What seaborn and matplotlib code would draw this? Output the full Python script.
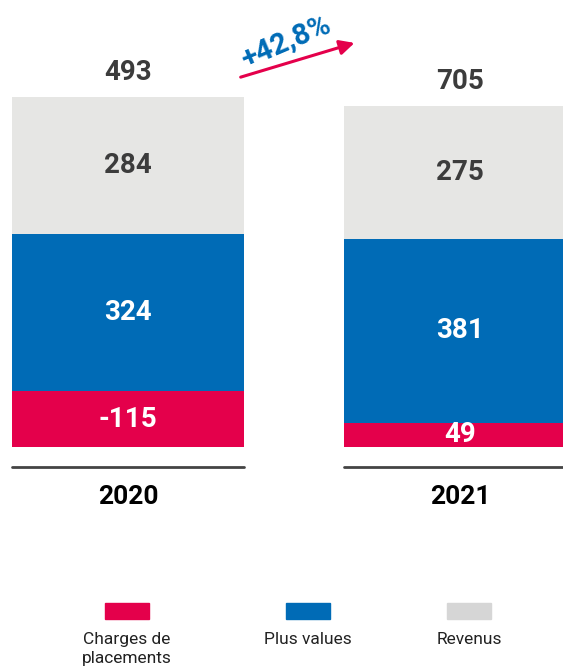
import numpy as np
import pandas as pd
import seaborn as sns
import matplotlib.pyplot as plt
from matplotlib.patches import Rectangle

sns.set_style("white")
plt.rcParams['font.family'] = ['Roboto', 'DejaVu Sans']

# data
years = ["2020", "2021"]
charges = [-115, 49]
plus_values = [324, 381]
revenus = [284, 275]
totals = [493, 705]
growth_label = "+42,8%"
series_names = ["Charges de\nplacements", "Plus values", "Revenus"]

red = "#E4004B"
blue = "#006BB6"
grey = "#E6E6E4"

fig = plt.figure(figsize=(5.63, 6.71), dpi=100)
ax = fig.add_axes([0, 0, 1, 1])

# bottom-up stack, heights drawn from absolute values
layers = [charges, plus_values, revenus]
colors = [red, blue, grey]
bottom = np.zeros(len(years))
for vals, c in zip(layers, colors):
    h = np.abs(vals)
    df = pd.DataFrame({"year": years, "h": h})
    sns.barplot(data=df, x="year", y="h", color=c, width=0.70, bottom=bottom,
                saturation=1, ax=ax, errorbar=None, linewidth=0,
                edgecolor="none")
    for i, v in enumerate(vals):
        ax.text(i, bottom[i] + h[i] / 2, f"{v}", ha="center", va="center",
                fontsize=20, fontweight="bold",
                color="#3C3C3C" if c == grey else "white")
    bottom = bottom + h

for i, t in enumerate(totals):
    ax.text(i, bottom[i] + 22, f"{t}", ha="center", va="bottom",
            fontsize=20, fontweight="bold", color="#3C3C3C")
    ax.plot([i - 0.35, i + 0.35], [-41, -41], color="#444444", lw=2)
    ax.text(i, -103, years[i], ha="center", va="center", fontsize=19,
            fontweight="bold", color="black")

# growth arrow
ax.annotate("", xy=(0.69, 836), xytext=(0.331, 762),
            arrowprops=dict(arrowstyle="-|>", color=red, lw=2.2,
                            mutation_scale=22))
ax.text(0.475, 838, growth_label, ha="center", va="center", rotation=23,
        fontsize=21, fontweight="bold", color=blue)

ax.set_xlim(-0.386, 1.31)
ax.set_ylim(-463, 923)
ax.axis("off")

# legend
leg_x = [127, 308, 469]
for name, c, x in zip(series_names, [red, blue, "#D6D6D6"], leg_x):
    fig.patches.append(Rectangle(((x - 22) / 563, 1 - 619 / 671), 44 / 563, 16 / 671,
                                 transform=fig.transFigure, color=c))
    fig.text(x / 563, 1 - 632 / 671, name, ha="center", va="top", fontsize=12.5,
             color="#222222", linespacing=1.3)

fig.savefig("out.png", dpi=100)
